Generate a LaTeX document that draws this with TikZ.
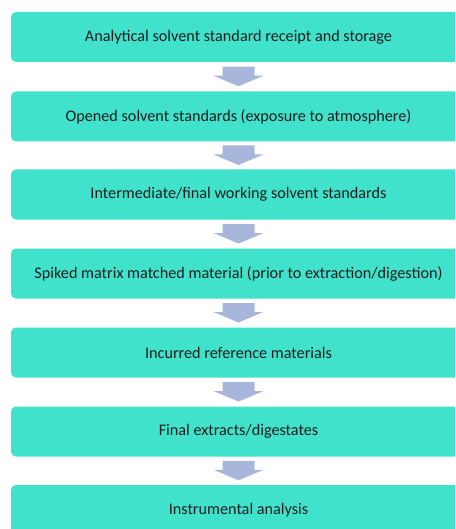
\documentclass[tikz,border=0pt]{standalone}
\usepackage{fontspec}
\setmainfont{Carlito}
\usetikzlibrary{calc}
\definecolor{boxfill}{HTML}{40E2CC}
\definecolor{arrfill}{HTML}{A9B6DC}
\definecolor{txt}{HTML}{1E1E1E}
\tikzset{
  stepbox/.style={rectangle, rounded corners=5pt, fill=boxfill, draw=none,
    minimum width=455pt, minimum height=50pt, text=txt, font=\fontsize{16.2}{18}\selectfont},
  blockarrow/.style={fill=arrfill, draw=none}
}
\newcommand{\blockarr}[2]{%
  \coordinate (m#1#2) at ($(#1.south)!0.5!(#2.north)$);
  \fill[blockarrow] ($(m#1#2)+(-16,-10)$) -- ($(m#1#2)+(16,-10)$) -- ($(m#1#2)+(16,-1)$)
    -- ($(m#1#2)+(25,-1)$) -- ($(m#1#2)+(0,9.5)$) -- ($(m#1#2)+(-25,-1)$)
    -- ($(m#1#2)+(-16,-1)$) -- cycle;}
\begin{document}
\begin{tikzpicture}[x=1pt,y=-1pt]
\useasboundingbox (0,0) rectangle (455,529);
\clip (0,0) rectangle (455,529);
\fill[white] (0,0) rectangle (455,529);
\node[stepbox] (b1) at (238.5,37) {\raisebox{-1.5pt}{Analytical solvent standard receipt and storage}};
\node[stepbox] (b2) at (238.5,116.5) {\raisebox{-1.5pt}{Opened solvent standards (exposure to atmosphere)}};
\node[stepbox] (b3) at (238.5,194.5) {\raisebox{-1.5pt}{Intermediate/final working solvent standards}};
\node[stepbox] (b4) at (238.5,273.5) {\raisebox{-1.5pt}{Spiked matrix matched material (prior to extraction/digestion)}};
\node[stepbox] (b5) at (238.5,352.5) {\raisebox{-1.5pt}{Incurred reference materials}};
\node[stepbox] (b6) at (238.5,431.5) {\raisebox{-1.5pt}{Final extracts/digestates}};
\node[stepbox] (b7) at (238.5,510) {\raisebox{-1.5pt}{Instrumental analysis}};
\blockarr{b1}{b2}
\blockarr{b2}{b3}
\blockarr{b3}{b4}
\blockarr{b4}{b5}
\blockarr{b5}{b6}
\blockarr{b6}{b7}
\end{tikzpicture}
\end{document}
